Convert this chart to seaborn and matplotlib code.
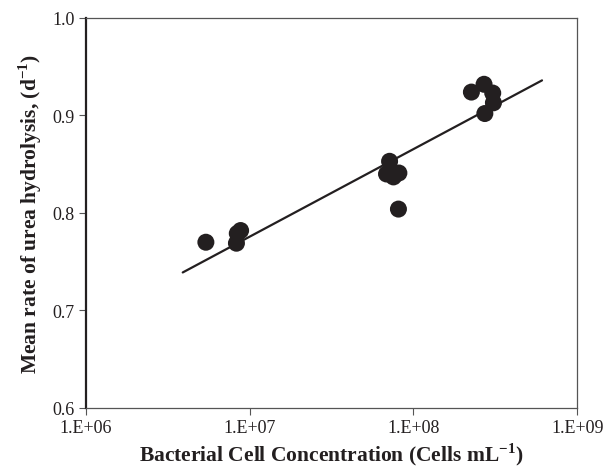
"""Urea hydrolysis rate vs bacterial cell concentration (log x)."""

import matplotlib

matplotlib.use("Agg")
import matplotlib.pyplot as plt
import numpy as np
import pandas as pd
import seaborn as sns

cells_per_ml = [
    5.4e6, 8.3e6, 8.4e6, 8.8e6,
    6.85e7, 7.15e7, 7.55e7, 8.15e7, 8.1e7,
    2.26e8, 2.70e8, 3.05e8, 3.08e8, 2.73e8,
]
urea_rate = [
    0.770, 0.769, 0.779, 0.782,
    0.840, 0.853, 0.837, 0.841, 0.804,
    0.924, 0.932, 0.923, 0.913, 0.902,
]

# Fitted line end points
fit_x = [3.9e6, 6.1e8]
fit_y = [0.739, 0.936]

xtick_vals = [1e6, 1e7, 1e8, 1e9]
xtick_labels = ["1.E+06", "1.E+07", "1.E+08", "1.E+09"]
ytick_vals = [0.6, 0.7, 0.8, 0.9, 1.0]


def main() -> None:
    sns.set_theme(style="white")
    plt.rcParams["font.family"] = ["Liberation Serif", "DejaVu Serif"]
    plt.rcParams["mathtext.fontset"] = "custom"
    plt.rcParams["mathtext.rm"] = "Liberation Serif"
    plt.rcParams["mathtext.bf"] = "Liberation Serif:bold"

    df = pd.DataFrame({"cells": cells_per_ml, "rate": urea_rate})
    fit = pd.DataFrame({"cells": fit_x, "rate": fit_y})

    fig = plt.figure(figsize=(6.14, 4.77), dpi=100)
    ax = fig.add_axes([0.140, 0.1426, 0.800, 0.8176])

    sns.lineplot(data=fit, x="cells", y="rate", color="#231f20", lw=1.6, ax=ax)
    sns.scatterplot(
        data=df, x="cells", y="rate", color="#231f20", s=150,
        edgecolor="none", zorder=3, ax=ax,
    )

    ax.set_xscale("log")
    ax.set_xlim(1e6, 1e9)
    ax.set_ylim(0.6, 1.0)
    ax.set_xticks(xtick_vals)
    ax.set_xticklabels(xtick_labels)
    ax.xaxis.set_minor_locator(matplotlib.ticker.NullLocator())
    ax.set_yticks(ytick_vals)
    ax.set_yticklabels([f"{v:.1f}" for v in ytick_vals])

    ax.tick_params(axis="both", which="major", direction="out", length=5,
                   width=0.8, color="#555555", labelsize=13, pad=3,
                   labelcolor="#231f20")
    ax.tick_params(bottom=True, left=True)

    for side in ["top", "right", "bottom"]:
        ax.spines[side].set_color("#555555")
        ax.spines[side].set_linewidth(0.9)
    ax.spines["left"].set_color("#231f20")
    ax.spines["left"].set_linewidth(1.6)

    ax.set_xlabel(r"Bacterial Cell Concentration (Cells mL$^{\mathbf{-1}}$)",
                  fontsize=15.5, fontweight="bold", color="#231f20", labelpad=3)
    ax.set_ylabel(r"Mean rate of urea hydrolysis, (d$^{\mathbf{-1}}$)",
                  fontsize=15.5, fontweight="bold", color="#231f20", labelpad=6)

    fig.savefig("out.png", dpi=100, facecolor="white")
    plt.close(fig)


if __name__ == "__main__":
    main()
